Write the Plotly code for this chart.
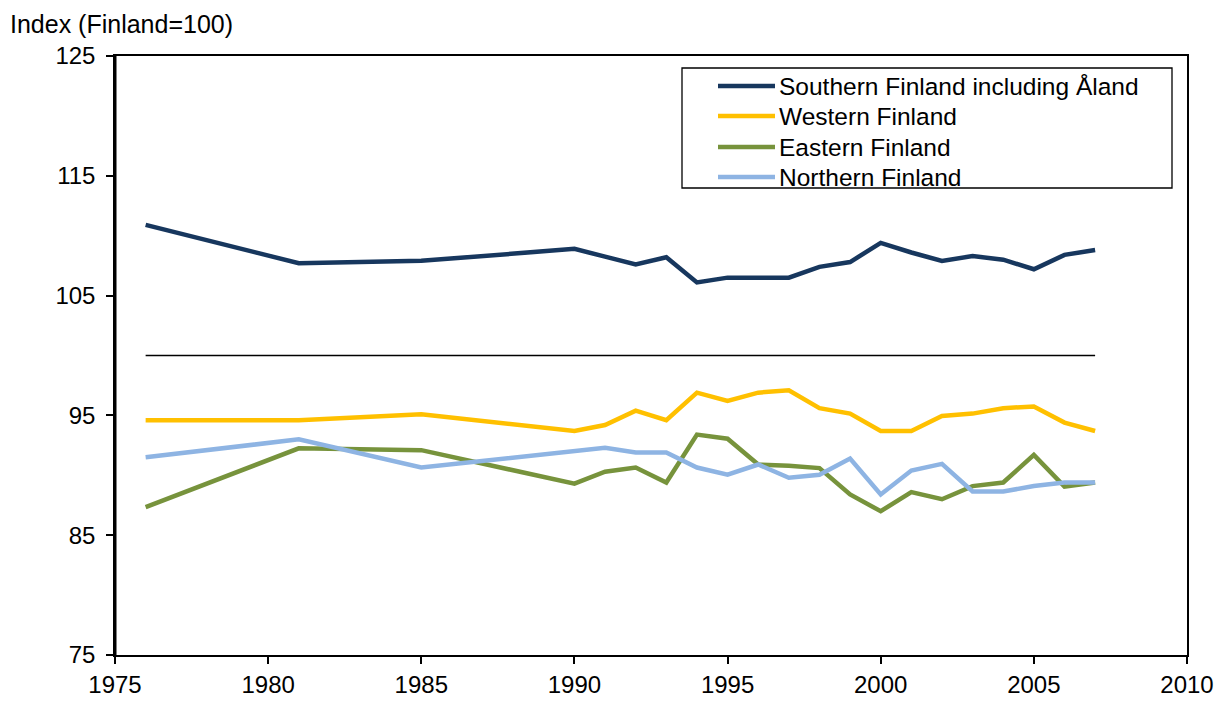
import plotly.graph_objects as go

years = [1976, 1981, 1985, 1990, 1991, 1992, 1993, 1994, 1995, 1996, 1997, 1998,
         1999, 2000, 2001, 2002, 2003, 2004, 2005, 2006, 2007]

southern = [110.9, 107.7, 107.9, 108.9, 108.25, 107.6, 108.2, 106.1, 106.5, 106.5, 106.5,
            107.4, 107.8, 109.4, 108.6, 107.9, 108.3, 108.0, 107.2, 108.4, 108.8]
western = [94.6, 94.6, 95.1, 93.7, 94.2, 95.4, 94.6, 96.9, 96.2, 96.9, 97.1,
           95.6, 95.15, 93.7, 93.7, 94.95, 95.15, 95.6, 95.75, 94.4, 93.7]
eastern = [87.35, 92.25, 92.1, 89.3, 90.3, 90.65, 89.4, 93.4, 93.05, 90.9, 90.8,
           90.6, 88.4, 87.0, 88.6, 88.0, 89.1, 89.4, 91.7, 89.05, 89.4]
northern = [91.5, 93.0, 90.65, 92.0, 92.3, 91.9, 91.9, 90.65, 90.05, 90.9, 89.8,
            90.05, 91.4, 88.4, 90.4, 90.95, 88.65, 88.65, 89.1, 89.4, 89.4]

names = ["Southern Finland including Åland", "Western Finland", "Eastern Finland", "Northern Finland"]
colors = ["#17375E", "#FFC000", "#77933C", "#8EB4E3"]

ref_years = [1976, 2007]
ref_values = [100, 100]

x_ticks = [1975, 1980, 1985, 1990, 1995, 2000, 2005, 2010]
y_ticks = [75, 85, 95, 105, 115, 125]

fig = go.Figure()
fig.add_trace(go.Scatter(x=ref_years, y=ref_values, mode="lines",
                         line=dict(color="black", width=1.5), showlegend=False, hoverinfo="skip"))
for name, vals, col in zip(names, [southern, western, eastern, northern], colors):
    fig.add_trace(go.Scatter(x=years, y=vals, mode="lines", name=name, showlegend=False,
                             line=dict(color=col, width=4.5)))

font = "Liberation Sans, Arial, sans-serif"

# custom legend (box, samples and labels placed in paper coordinates)
PW, PH = 1072.0, 599.0  # plot area size in pixels
def px(x):
    return x / PW
def py(y):
    return 1 - y / PH

shapes = [dict(type="line", xref="paper", yref="paper", x0=0, x1=0, y0=0, y1=1,
               line=dict(color="black", width=3)),
          dict(type="rect", xref="paper", yref="paper",
               x0=px(567), x1=px(1057), y0=py(12), y1=py(132),
               line=dict(color="black", width=1.3), fillcolor="white", layer="above")]
annotations = [dict(text="Index (Finland=100)", xref="paper", yref="paper",
                    x=-0.1, y=1 + 48 / PH, xanchor="left", yanchor="top",
                    showarrow=False, font=dict(size=25))]
row_y = [30, 60, 91, 121]
for name, col, ry in zip(names, colors, row_y):
    shapes.append(dict(type="line", xref="paper", yref="paper",
                       x0=px(603), x1=px(660), y0=py(ry), y1=py(ry),
                       line=dict(color=col, width=4.5), layer="above"))
    annotations.append(dict(text=name, xref="paper", yref="paper",
                            x=px(662), y=py(ry), xanchor="left", yanchor="middle",
                            showarrow=False, font=dict(size=24.5)))

fig.update_layout(
    width=1225, height=707,
    margin=dict(l=107, r=46, t=48, b=60),
    paper_bgcolor="white", plot_bgcolor="white",
    font=dict(family=font, size=24, color="black"),
    showlegend=False,
    xaxis=dict(range=[1975, 2010], tickvals=x_ticks, showgrid=False, zeroline=False,
               showline=True, linecolor="black", linewidth=1.5, mirror=True,
               ticks="outside", ticklen=7, tickwidth=1.5, tickcolor="black",
               tickfont=dict(size=24)),
    yaxis=dict(range=[75, 125], tickvals=y_ticks, showgrid=False, zeroline=False,
               showline=True, linecolor="black", linewidth=1.5, mirror=True,
               ticks="outside", ticklen=7, tickwidth=1.5, tickcolor="black",
               ticklabelstandoff=6, tickfont=dict(size=24)),
    annotations=annotations,
    shapes=shapes,
)

fig.write_html("out.html")
